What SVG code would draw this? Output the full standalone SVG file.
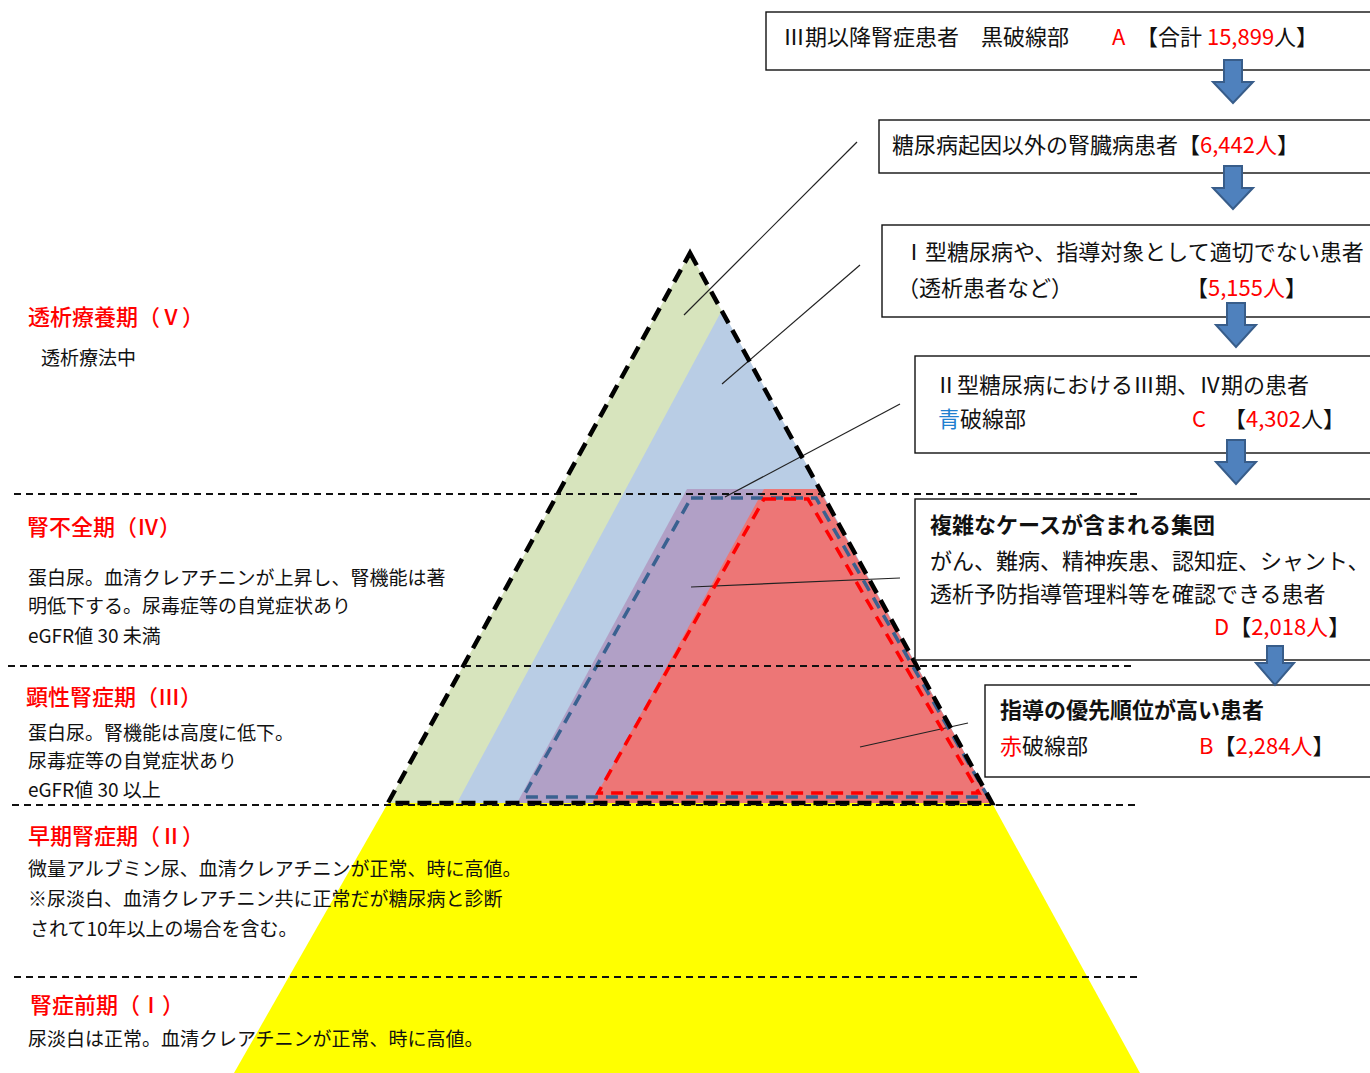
<svg xmlns="http://www.w3.org/2000/svg" width="1370" height="1073" viewBox="0 0 1370 1073">
<defs>
<style>
text{font-family:"Noto Sans CJK JP","Noto Sans",sans-serif;fill:#111;}
.ttl{font-size:22px;fill:#ff0000;font-weight:500;}
.body{font-size:19px;}
.bx{font-size:22px;}
.bold{font-weight:bold;}
.r{fill:#ff0000;}
.b{fill:#1f7fd0;}
.box{fill:#fff;stroke:#111;stroke-width:1.4;}
.hd{stroke:#111;stroke-width:2;stroke-dasharray:7 5;fill:none;}
.lead{stroke:#222;stroke-width:1.2;fill:none;}
.arr{fill:#4f81bd;stroke:#385d8a;stroke-width:2;stroke-linejoin:miter;}
</style>
</defs>
<rect width="1370" height="1073" fill="#fff"/>

<g id="pyramid">
<polygon points="388,803 992,803 1140,1073 234,1073" fill="#ffff00"/>
<polygon points="690,253 992,803 388,803" fill="#d7e4bd"/>
<polygon points="722,310 992,803 457,803" fill="#b9cde5"/>
<polygon points="687,489 819,489 992,803 517,803" fill="#b1a0c6"/>
<polygon points="764,489 819,489 992,803 592,803" fill="#ed7676"/>
</g>

<g id="connectors">
<line class="lead" x1="857" y1="142" x2="684" y2="315"/>
<line class="lead" x1="860" y1="265" x2="722" y2="384"/>
<line class="lead" x1="900" y1="404" x2="725" y2="497"/>
<line class="lead" x1="900" y1="578" x2="691" y2="587"/>
<line class="lead" x1="968" y1="723" x2="860" y2="747"/>
</g>

<g id="outlines">
<polygon points="691,498 816,498 988,797 523,797" fill="none" stroke="#3a6190" stroke-width="3.5" stroke-dasharray="12 8"/>
<polygon points="764,499 808,499 979,793 598,793" fill="none" stroke="#ff0000" stroke-width="3.5" stroke-dasharray="12 8"/>
<polygon points="690,253 992,803 388,803" fill="none" stroke="#000" stroke-width="4.5" stroke-dasharray="14 8"/>
</g>

<g id="stage-lines">
<line class="hd" x1="14" y1="494" x2="1140" y2="494"/>
<line class="hd" x1="8" y1="666" x2="1135" y2="666"/>
<line class="hd" x1="12" y1="805" x2="1140" y2="805"/>
<line class="hd" x1="14" y1="977" x2="1140" y2="977"/>
</g>

<g id="stage5">
<text class="ttl" x="28" y="325">透析療養期（Ⅴ）</text>
<text class="body" x="41" y="365">透析療法中</text>
</g>
<g id="stage4">
<text class="ttl" x="27" y="535">腎不全期（Ⅳ）</text>
<text class="body" x="28" y="585">蛋白尿。血清クレアチニンが上昇し、腎機能は著</text>
<text class="body" x="28" y="613">明低下する。尿毒症等の自覚症状あり</text>
<text class="body" x="28" y="643">eGFR値 30 未満</text>
</g>
<g id="stage3">
<text class="ttl" x="26" y="705">顕性腎症期（Ⅲ）</text>
<text class="body" x="28" y="740">蛋白尿。腎機能は高度に低下。</text>
<text class="body" x="28" y="768">尿毒症等の自覚症状あり</text>
<text class="body" x="28" y="797">eGFR値 30 以上</text>
</g>
<g id="stage2">
<text class="ttl" x="28" y="844">早期腎症期（Ⅱ）</text>
<text class="body" x="28" y="876">微量アルブミン尿、血清クレアチニンが正常、時に高値。</text>
<text class="body" x="28" y="906">※尿淡白、血清クレアチニン共に正常だが糖尿病と診断</text>
<text class="body" x="30" y="936">されて10年以上の場合を含む。</text>
</g>
<g id="stage1">
<text class="ttl" x="30" y="1013">腎症前期（Ⅰ）</text>
<text class="body" x="28" y="1046">尿淡白は正常。血清クレアチニンが正常、時に高値。</text>
</g>

<g id="boxA">
<rect class="box" x="766" y="12" width="610" height="58"/>
<text class="bx" x="783" y="45">Ⅲ期以降腎症患者　黒破線部<tspan x="1112" class="r">A</tspan><tspan x="1136">【合計 </tspan><tspan class="r">15,899</tspan>人】</text>
</g>
<g id="boxOther">
<rect class="box" x="879" y="120" width="497" height="53"/>
<text class="bx" x="892" y="153">糖尿病起因以外の腎臓病患者【<tspan class="r">6,442人</tspan>】</text>
</g>
<g id="boxType1">
<rect class="box" x="882" y="225" width="494" height="92"/>
<text class="bx" x="903" y="260">Ⅰ型糖尿病や、指導対象として適切でない患者</text>
<text class="bx" x="897" y="296">（透析患者など）<tspan x="1186">【</tspan><tspan class="r">5,155人</tspan>】</text>
</g>
<g id="boxC">
<rect class="box" x="915" y="356" width="461" height="97"/>
<text class="bx" x="935" y="393">Ⅱ型糖尿病におけるⅢ期、Ⅳ期の患者</text>
<text class="bx" x="938" y="427"><tspan class="b">青</tspan>破線部<tspan x="1192" class="r">C</tspan><tspan x="1224">【</tspan><tspan class="r">4,302</tspan>人】</text>
</g>
<g id="boxD">
<rect class="box" x="915" y="499" width="461" height="161"/>
<text class="bx bold" x="930" y="533">複雑なケースが含まれる集団</text>
<text class="bx" x="930" y="569">がん、難病、精神疾患、認知症、シャント、</text>
<text class="bx" x="930" y="602">透析予防指導管理料等を確認できる患者</text>
<text class="bx" x="1214" y="635"><tspan class="r">D</tspan>【<tspan class="r">2,018人</tspan>】</text>
</g>
<g id="boxB">
<rect class="box" x="985" y="685" width="391" height="92"/>
<text class="bx bold" x="1000" y="718">指導の優先順位が高い患者</text>
<text class="bx" x="1000" y="754"><tspan class="r">赤</tspan>破線部<tspan x="1199" class="r">B</tspan>【<tspan class="r">2,284人</tspan>】</text>
</g>

<g id="arrows">
<polygon class="arr" points="1224,60 1242,60 1242,82 1253,82 1233,103 1213,82 1224,82"/>
<polygon class="arr" points="1224,166 1242,166 1242,188 1253,188 1233,209 1213,188 1224,188"/>
<polygon class="arr" points="1227,303 1245,303 1245,325 1256,325 1236,347 1216,325 1227,325"/>
<polygon class="arr" points="1227,440 1245,440 1245,462 1256,462 1236,484 1216,462 1227,462"/>
<polygon class="arr" points="1267,646 1283,646 1283,663 1294,663 1275,685 1256,663 1267,663"/>
</g>
</svg>
